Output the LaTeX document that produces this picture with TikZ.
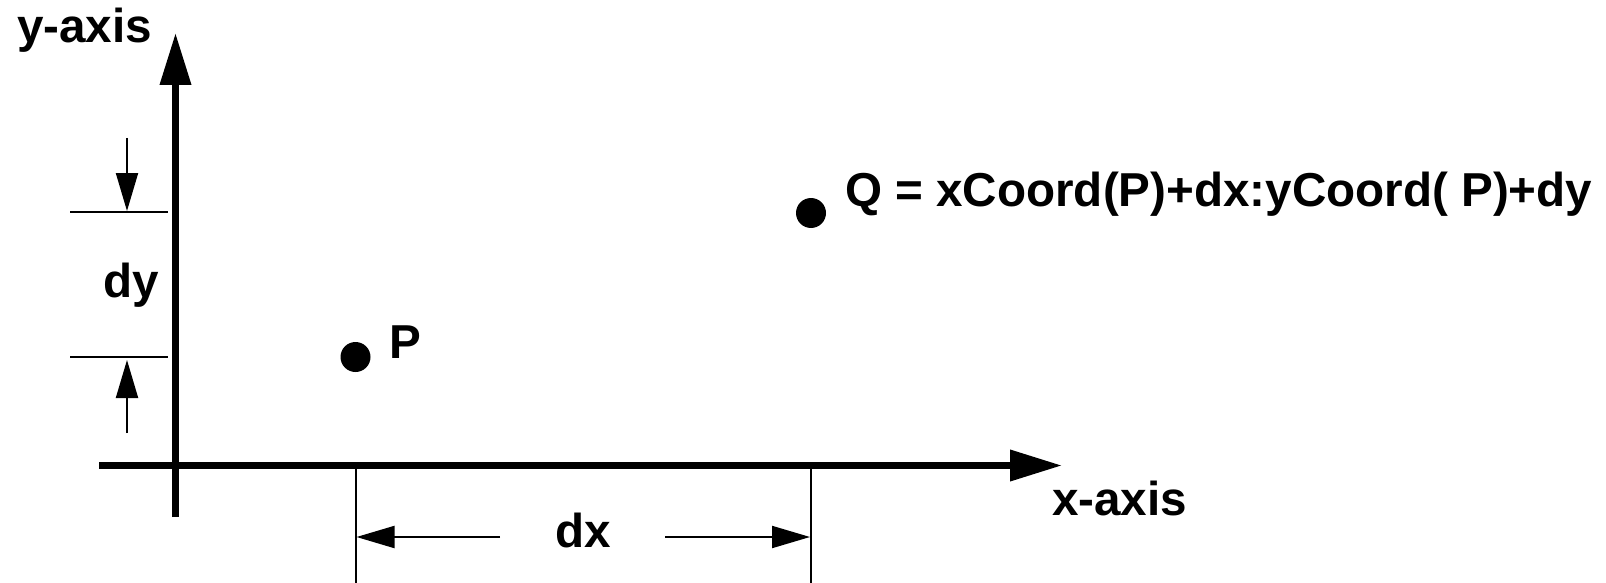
\documentclass[tikz,border=0pt]{standalone}
\usepackage{fontspec}
\setmainfont{Liberation Sans}
\usetikzlibrary{arrows.meta}
\begin{document}
\begin{tikzpicture}[x=1pt,y=-1pt,
  axis/.style={line width=7pt,-{Triangle[length=52pt,width=30pt]}},
  thin/.style={line width=2pt},
  dimarrow/.style={line width=2pt,-{Triangle[length=38pt,width=22pt]}},
  dot/.style={circle,fill=black,inner sep=0pt,minimum size=30pt},
  lbl/.style={anchor=base west,inner sep=0pt,font=\fontsize{47.6pt}{56pt}\selectfont\bfseries}]
\useasboundingbox (0,0) rectangle (1606,583);
% points
\coordinate (ybot) at (175.5,517);
\coordinate (ytop) at (175.5,33);
\coordinate (xleft) at (99,465.5);
\coordinate (xright) at (1062,465.5);
\node[dot] (P) at (355.5,357) {};
\node[dot] (Q) at (811,213) {};
% axes
\draw[axis] (ybot) -- (ytop);
\draw[axis] (xleft) -- (xright);
% dy extension lines
\coordinate (dyQl) at (70,212);
\coordinate (dyQr) at (168,212);
\coordinate (dyPl) at (70,357);
\coordinate (dyPr) at (168,357);
\draw[thin] (dyQl) -- (dyQr);
\draw[thin] (dyPl) -- (dyPr);
\coordinate (dyTtail) at (127,138);
\coordinate (dyTtip) at (127,211);
\coordinate (dyBtail) at (127,433);
\coordinate (dyBtip) at (127,360);
\draw[dimarrow] (dyTtail) -- (dyTtip);
\draw[dimarrow] (dyBtail) -- (dyBtip);
% dx extension lines
\coordinate (dxPt) at (355.5,466);
\coordinate (dxPb) at (355.5,583);
\coordinate (dxQt) at (811,466);
\coordinate (dxQb) at (811,583);
\draw[thin] (dxPt) -- (dxPb);
\draw[thin] (dxQt) -- (dxQb);
\coordinate (dxLtail) at (500,537);
\coordinate (dxLtip) at (356.5,537);
\coordinate (dxRtail) at (665,537);
\coordinate (dxRtip) at (810,537);
\draw[dimarrow] (dxLtail) -- (dxLtip);
\draw[dimarrow] (dxRtail) -- (dxRtip);
% labels
\node[lbl] (ylab) at (17,43) {y-axis};
\node[lbl] (xlab) at (1052,515) {x-axis};
\node[lbl] (dylab) at (103,297) {dy};
\node[lbl] (dxlab) at (555,547) {dx};
\node[lbl] (Plab) at (389,358) {P};
\node[lbl] (Qlab) at (845,206) {Q = xCoord(P)+dx:yCoord( P)+dy};
\end{tikzpicture}
\end{document}
